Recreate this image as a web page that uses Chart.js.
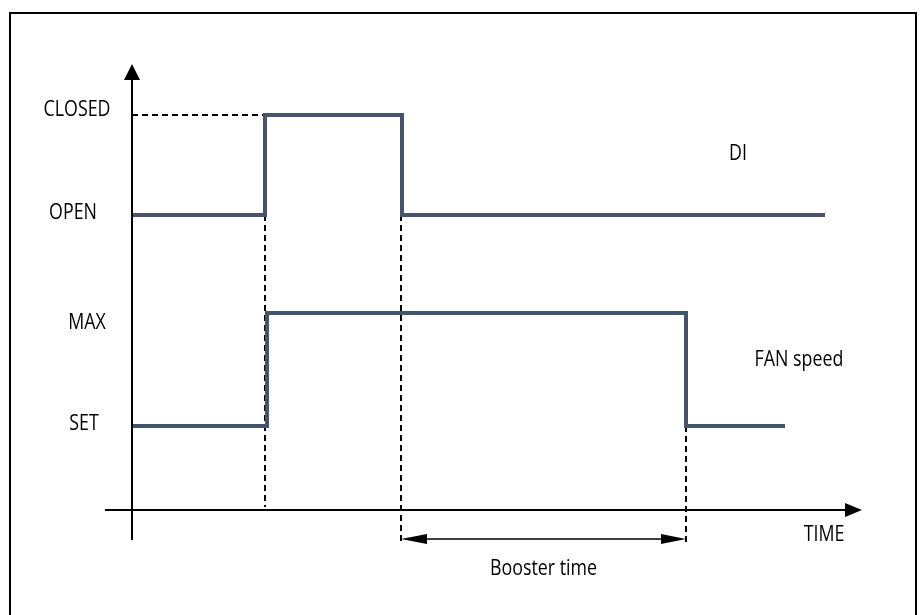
<!DOCTYPE html>
<html>
<head>
<meta charset="utf-8">
<script src="https://cdn.jsdelivr.net/npm/chart.js@4.4.0/dist/chart.umd.min.js"></script>
<style>
  body { margin: 0; background: #fff; }
  #wrap { width: 920px; height: 615px; position: relative; }
</style>
</head>
<body>
<div id="wrap"><canvas id="timingChart"></canvas></div>
<script>
// signal levels (x axis sits at 0)
const levelNames = ['CLOSED', 'OPEN', 'MAX', 'SET'];
const levelValues = [3.95, 2.95, 1.97, 0.84];

// DI signal: switch times and levels
const diTimes = [0, 1.33, 2.70, 6.93];
const diLevels = [2.95, 3.95, 2.95, 2.95];

// FAN speed: switch times and levels
const fanTimes = [0, 1.35, 5.54, 6.53];
const fanLevels = [0.84, 1.97, 0.84, 0.84];

// booster time span
const boosterSpan = [2.69, 5.54];

const LINE_COLOR = '#44546A';
const FONT = '22px "Open Sans", "Liberation Sans", Arial, sans-serif';
const TEXT_SQUEEZE = 0.81;

// label placement (pixel offsets from their anchor)
const levelLabelX = [77, 73, 87, 84];
const levelLabelDy = [-5, -2, 10, -2];

const CLOSED = levelValues[0], OPEN = levelValues[1], SET = levelValues[3];
const axisBottom = -0.30;

function pts(xs, ys) {
    return xs.map((x, i) => ({ x: x, y: ys[i] }));
}

function dashed(data) {
    return {
        data: data,
        borderColor: '#000',
        borderWidth: 2,
        borderDash: [6, 4],
        pointRadius: 0,
        fill: false
    };
}

// narrow text, a bit like Calibri
function label(ctx, text, x, y) {
    ctx.save();
    ctx.translate(x, y);
    ctx.scale(TEXT_SQUEEZE, 1);
    ctx.fillText(text, 0, 0);
    ctx.restore();
}

const diagramPlugin = {
    id: 'diagram',
    beforeDraw(chart) {
        const ctx = chart.ctx;
        ctx.save();
        ctx.fillStyle = '#fff';
        ctx.fillRect(0, 0, chart.width, chart.height);
        // frame
        ctx.strokeStyle = '#000';
        ctx.lineWidth = 2;
        ctx.beginPath();
        ctx.moveTo(10, chart.height + 2);
        ctx.lineTo(10, 13);
        ctx.lineTo(916, 13);
        ctx.lineTo(916, chart.height + 2);
        ctx.stroke();
        ctx.restore();
    },
    afterDraw(chart) {
        const ctx = chart.ctx;
        const xs = chart.scales.x, ys = chart.scales.y;
        const x0 = xs.getPixelForValue(0);
        const y0 = ys.getPixelForValue(0);
        const area = chart.chartArea;
        ctx.save();
        ctx.strokeStyle = '#000';
        ctx.fillStyle = '#000';
        ctx.lineWidth = 2;

        // y axis with arrow
        ctx.beginPath();
        ctx.moveTo(x0, ys.getPixelForValue(axisBottom));
        ctx.lineTo(x0, area.top + 10);
        ctx.stroke();
        ctx.beginPath();
        ctx.moveTo(x0, area.top);
        ctx.lineTo(x0 - 8, area.top + 16);
        ctx.lineTo(x0 + 8, area.top + 16);
        ctx.closePath();
        ctx.fill();

        // x axis with arrow
        ctx.beginPath();
        ctx.moveTo(area.left, y0);
        ctx.lineTo(area.right - 10, y0);
        ctx.stroke();
        ctx.beginPath();
        ctx.moveTo(area.right, y0);
        ctx.lineTo(area.right - 17, y0 - 7);
        ctx.lineTo(area.right - 17, y0 + 7);
        ctx.closePath();
        ctx.fill();

        // booster time double arrow
        const by = ys.getPixelForValue(-0.29);
        const bx1 = xs.getPixelForValue(boosterSpan[0]);
        const bx2 = xs.getPixelForValue(boosterSpan[1]);
        ctx.lineWidth = 1.5;
        ctx.beginPath();
        ctx.moveTo(bx1 + 10, by);
        ctx.lineTo(bx2 - 10, by);
        ctx.stroke();
        ctx.beginPath();
        ctx.moveTo(bx1, by);
        ctx.lineTo(bx1 + 26, by - 5);
        ctx.lineTo(bx1 + 26, by + 5);
        ctx.closePath();
        ctx.fill();
        ctx.beginPath();
        ctx.moveTo(bx2, by);
        ctx.lineTo(bx2 - 25, by - 5);
        ctx.lineTo(bx2 - 25, by + 5);
        ctx.closePath();
        ctx.fill();

        // texts
        ctx.font = FONT;
        ctx.textAlign = 'center';
        ctx.textBaseline = 'middle';
        levelNames.forEach((name, i) => {
            label(ctx, name, levelLabelX[i], ys.getPixelForValue(levelValues[i]) + levelLabelDy[i]);
        });
        label(ctx, 'DI', xs.getPixelForValue(6.06), ys.getPixelForValue(3.56));
        label(ctx, 'FAN speed', xs.getPixelForValue(6.67), ys.getPixelForValue(1.50));
        label(ctx, 'TIME', xs.getPixelForValue(6.92), ys.getPixelForValue(-0.25));
        label(ctx, 'Booster time', (bx1 + bx2) / 2, ys.getPixelForValue(-0.59));
        ctx.restore();
    }
};

new Chart(document.getElementById('timingChart'), {
    type: 'line',
    data: {
        datasets: [
            {
                label: 'DI',
                data: pts(diTimes, diLevels),
                stepped: 'before',
                borderColor: LINE_COLOR,
                borderWidth: 4,
                pointRadius: 0,
                fill: false
            },
            {
                label: 'FAN speed',
                data: pts(fanTimes, fanLevels),
                stepped: 'before',
                borderColor: LINE_COLOR,
                borderWidth: 4,
                pointRadius: 0,
                fill: false
            },
            dashed([{ x: 0, y: CLOSED }, { x: diTimes[1], y: CLOSED }]),
            dashed([{ x: diTimes[1], y: OPEN }, { x: diTimes[1], y: 0.03 }]),
            dashed([{ x: boosterSpan[0], y: OPEN }, { x: boosterSpan[0], y: -0.35 }]),
            dashed([{ x: boosterSpan[1], y: SET }, { x: boosterSpan[1], y: -0.35 }])
        ]
    },
    options: {
        responsive: true,
        maintainAspectRatio: false,
        animation: false,
        layout: { padding: { left: 105, right: 58, top: 64, bottom: 70 } },
        scales: {
            x: { type: 'linear', min: -0.27, max: 7.30, display: false },
            y: { type: 'linear', min: -0.35, max: 4.46, display: false }
        },
        plugins: {
            legend: { display: false },
            tooltip: { enabled: false }
        }
    },
    plugins: [diagramPlugin]
});
</script>
</body>
</html>
